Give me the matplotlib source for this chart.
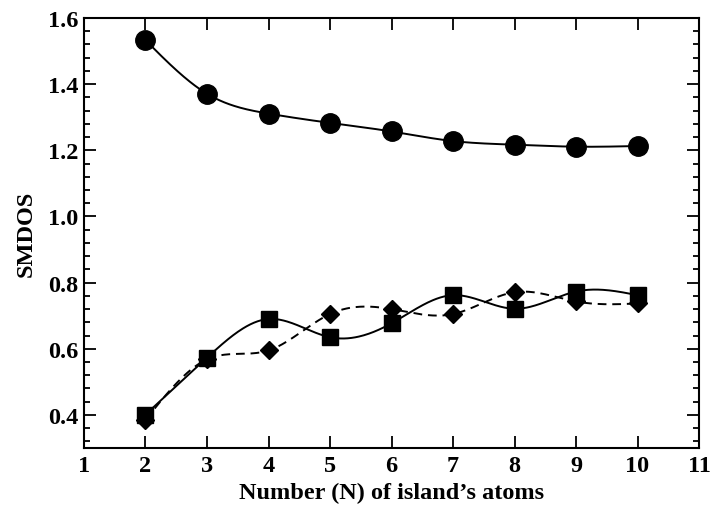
import numpy as np
import matplotlib
matplotlib.use("Agg")
import matplotlib.pyplot as plt
from matplotlib.ticker import MultipleLocator

N = [2, 3, 4, 5, 6, 7, 8, 9, 10]
circles = [1.533, 1.371, 1.311, 1.283, 1.257, 1.228, 1.217, 1.211, 1.213]
squares = [0.401, 0.573, 0.690, 0.635, 0.677, 0.762, 0.721, 0.773, 0.762]
diamonds = [0.385, 0.568, 0.595, 0.705, 0.720, 0.705, 0.771, 0.743, 0.737]

x_ticks = list(range(1, 12))
y_ticks = [0.4, 0.6, 0.8, 1.0, 1.2, 1.4, 1.6]


def natural_spline(x, y, num=400):
    x = np.asarray(x, float)
    y = np.asarray(y, float)
    n = len(x)
    h = np.diff(x)
    A = np.zeros((n, n))
    b = np.zeros(n)
    A[0, 0] = 1
    A[-1, -1] = 1
    for i in range(1, n - 1):
        A[i, i - 1] = h[i - 1]
        A[i, i] = 2 * (h[i - 1] + h[i])
        A[i, i + 1] = h[i]
        b[i] = 6 * ((y[i + 1] - y[i]) / h[i] - (y[i] - y[i - 1]) / h[i - 1])
    M = np.linalg.solve(A, b)
    xs = np.linspace(x[0], x[-1], num)
    idx = np.clip(np.searchsorted(x, xs) - 1, 0, n - 2)
    x0, x1 = x[idx], x[idx + 1]
    hh = x1 - x0
    t0 = x1 - xs
    t1 = xs - x0
    ys = (M[idx] * t0 ** 3 + M[idx + 1] * t1 ** 3) / (6 * hh) \
        + (y[idx] / hh - M[idx] * hh / 6) * t0 \
        + (y[idx + 1] / hh - M[idx + 1] * hh / 6) * t1
    return xs, ys


plt.rcParams['font.family'] = ['Liberation Serif', 'DejaVu Serif']
plt.rcParams['font.weight'] = 'bold'

fig = plt.figure(figsize=(7.13, 5.10), dpi=100)
ax = fig.add_axes([0.1178, 0.1196, 0.8626, 0.8431])

for ys, ls in [(circles, '-'), (squares, '-'), (diamonds, (0, (4.5, 3)))]:
    sx, sy = natural_spline(N, ys)
    ax.plot(sx, sy, color='black', lw=1.4, linestyle=ls, zorder=2)

ax.plot(N, circles, 'o', color='black', ms=14, zorder=3)
ax.plot(N, squares, 's', color='black', ms=11.5, zorder=3)
ax.plot(N, diamonds, 'D', color='black', ms=9, zorder=4)

ax.set_xlim(1, 11)
ax.set_ylim(0.3, 1.6)
ax.set_xticks(x_ticks)
ax.set_yticks(y_ticks)
ax.set_yticklabels([f"{v:.1f}" for v in y_ticks])
ax.yaxis.set_minor_locator(MultipleLocator(0.04))

ax.tick_params(axis='both', which='both', direction='in', top=True, right=True,
               labelsize=17.5, width=1.3)
ax.tick_params(axis='both', which='major', length=8.5)
ax.tick_params(axis='y', which='major', pad=4)
ax.tick_params(axis='x', which='major', pad=5)
ax.tick_params(axis='y', which='minor', length=4.3)
for lab in ax.get_xticklabels() + ax.get_yticklabels():
    lab.set_fontweight('bold')
for s in ax.spines.values():
    s.set_linewidth(1.5)

ax.set_xlabel("Number (N) of island\u2019s atoms", fontsize=17.5, fontweight='bold', labelpad=4)
ax.set_ylabel("SMDOS", fontsize=17.5, fontweight='bold', labelpad=8)

fig.savefig("out.png", dpi=100)
